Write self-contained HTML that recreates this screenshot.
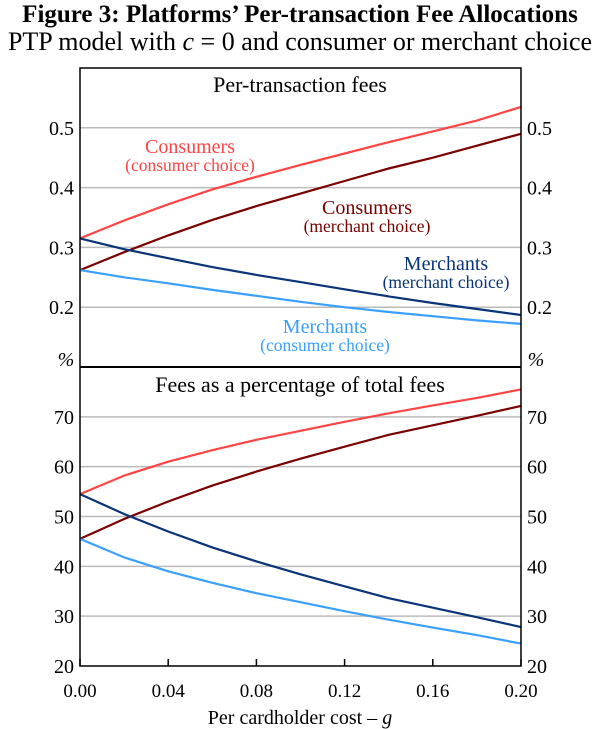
<!DOCTYPE html>
<html><head><meta charset="utf-8"><style>
body{margin:0;background:#fff;}
svg{display:block;}
svg text{font-family:"Liberation Serif","DejaVu Serif",serif;}
</style></head><body>
<svg id="chart" width="600" height="729" font-family="Liberation Serif, serif">
<text x="300" y="22" text-anchor="middle" font-size="25" font-weight="bold">Figure 3: Platforms’ Per-transaction Fee Allocations</text>
<text x="300" y="50" text-anchor="middle" font-size="26">PTP model with <tspan font-style="italic">c</tspan> = 0 and consumer or merchant choice</text>
<g id="grid"></g>
<g id="lines"></g>
<g id="axes"></g>
<text x="300" y="92" text-anchor="middle" font-size="22">Per-transaction fees</text>
<text x="300" y="392" text-anchor="middle" font-size="22">Fees as a percentage of total fees</text>
<g font-size="20" text-anchor="middle">
<text x="190" y="153" fill="#ff4444">Consumers</text>
<text x="190" y="171" fill="#ff4444" font-size="17.5">(consumer choice)</text>
<text x="367" y="214" fill="#7a0000">Consumers</text>
<text x="367" y="232" fill="#7a0000" font-size="17.5">(merchant choice)</text>
<text x="446" y="270" fill="#0a3478">Merchants</text>
<text x="446" y="288" fill="#0a3478" font-size="17.5">(merchant choice)</text>
<text x="325" y="333" fill="#3aa0ff">Merchants</text>
<text x="325" y="351" fill="#3aa0ff" font-size="17.5">(consumer choice)</text>
</g>
<text x="300" y="724" text-anchor="middle" font-size="20">Per cardholder cost – <tspan font-style="italic">g</tspan></text>
</svg>
<script>
const xValues=[0,0.02,0.04,0.06,0.08,0.10,0.12,0.14,0.16,0.18,0.20];
const topConsCons=[0.315,0.345,0.372,0.397,0.418,0.438,0.457,0.476,0.494,0.512,0.535];
const topConsMerch=[0.262,0.292,0.320,0.346,0.369,0.390,0.411,0.432,0.450,0.470,0.490];
const topMerchMerch=[0.315,0.297,0.282,0.267,0.254,0.242,0.230,0.218,0.207,0.197,0.187];
const topMerchCons=[0.262,0.250,0.240,0.229,0.219,0.209,0.200,0.192,0.185,0.178,0.172];
const botConsCons=[54.5,58.2,61,63.3,65.4,67.2,69,70.7,72.3,73.8,75.5];
const botConsMerch=[45.5,49.5,53,56.2,59,61.6,64,66.4,68.3,70.2,72.2];
const botMerchMerch=[54.5,50.5,47,43.8,41,38.4,36,33.6,31.7,29.8,27.8];
const botMerchCons=[45.5,41.8,39,36.7,34.6,32.8,31,29.3,27.7,26.2,24.5];
const topTicks=[0.2,0.3,0.4,0.5];
const botTicks=[20,30,40,50,60,70];
const xTicks=[0,0.04,0.08,0.12,0.16,0.20];

const NS='http://www.w3.org/2000/svg';
const L=80,R=521,T=68,M=367,B=666;
const sx=v=>L+(v-0)/(0.2)*(R-L);
const syTop=v=>M-(v-0.1)/0.5*(M-T);
const syBot=v=>B-(v-20)/60*(B-M);
function mk(tag,attrs,parent){const e=document.createElementNS(NS,tag);for(const k in attrs)e.setAttribute(k,attrs[k]);parent.appendChild(e);return e;}
const grid=document.getElementById('grid'),lines=document.getElementById('lines'),axes=document.getElementById('axes');
topTicks.forEach(t=>{const y=syTop(t);
 const g=mk('line',{x1:L,x2:R,y1:y,y2:y,stroke:'#bbb','stroke-width':1.5},grid);
 
 
 [[L-6,'end'],[R+6,'start']].forEach(([x,a])=>{const tx=mk('text',{x:x,y:y+7,'text-anchor':a,'font-size':20},axes);tx.textContent=t.toFixed(1);
 
 });
});
botTicks.forEach(t=>{const y=syBot(t);
 if(t>20){const g=mk('line',{x1:L,x2:R,y1:y,y2:y,stroke:'#bbb','stroke-width':1.5},grid);
 
 }
 [[L-6,'end'],[R+6,'start']].forEach(([x,a])=>{const tx=mk('text',{x:x,y:y+7,'text-anchor':a,'font-size':20},axes);tx.textContent=t;
 
 });
});
xTicks.forEach(t=>{const x=sx(t);
 const tk=mk('line',{x1:x,x2:x,y1:B,y2:B-7,stroke:'#000','stroke-width':1.5},axes);
 
 
 const tx=mk('text',{x:x,y:697,'text-anchor':'middle','font-size':19},axes);tx.textContent=t.toFixed(2);
 
 
});
['%','%'].forEach((s,i)=>{const tx=mk('text',{x:i?536:66,y:366,'text-anchor':'middle','font-size':20,'font-style':'italic'},axes);tx.textContent=s;
 
 });
const frame=mk('rect',{x:L,y:T,width:R-L,height:B-T,fill:'none',stroke:'#000','stroke-width':1.5},axes);


const div=mk('line',{x1:L,x2:R,y1:M,y2:M,stroke:'#000','stroke-width':2},axes);


function series(data,sy,color,name){
 const d=data.map((v,i)=>(i?'L':'M')+sx(xValues[i]).toFixed(1)+','+sy(v).toFixed(1)).join(' ');
 const p=mk('path',{d:d,fill:'none',stroke:color,'stroke-width':2.2},lines);
 
 
}
series(topConsCons,syTop,'#ff4444','top-line-consumers-consumer-choice');
series(topConsMerch,syTop,'#7a0000','top-line-consumers-merchant-choice');
series(topMerchMerch,syTop,'#0a3478','top-line-merchants-merchant-choice');
series(topMerchCons,syTop,'#3aa0ff','top-line-merchants-consumer-choice');
series(botConsCons,syBot,'#ff4444','bottom-line-consumers-consumer-choice');
series(botConsMerch,syBot,'#7a0000','bottom-line-consumers-merchant-choice');
series(botMerchMerch,syBot,'#0a3478','bottom-line-merchants-merchant-choice');
series(botMerchCons,syBot,'#3aa0ff','bottom-line-merchants-consumer-choice');
</script>
</body></html>
